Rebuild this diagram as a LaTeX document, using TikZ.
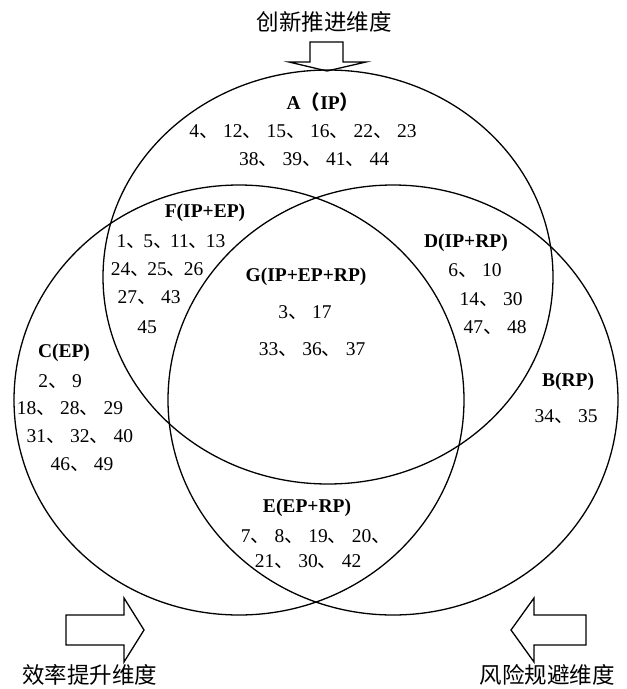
\documentclass[tikz,border=0pt]{standalone}
\usepackage{fontspec}
\setmainfont{Liberation Serif}
\newfontfamily\cjk{Noto Sans CJK SC}
\usetikzlibrary{shapes.geometric}
% enumeration comma with its trailing gap
\newcommand\dun[1][24pt]{\makebox[#1][l]{\cjk 、}}
\tikzset{
  setring/.style={draw, ellipse, line width=1.3pt, inner sep=0pt, minimum width=450pt},
  nums/.style={font=\fontsize{19.5}{22}\selectfont, inner sep=0pt},
  lbl/.style={font=\fontsize{19.5}{22}\selectfont\bfseries, inner sep=0pt},
  dimtext/.style={font=\fontsize{22.5}{25}\selectfont\cjk, inner sep=0pt},
  blockarrow/.style={draw, line width=1.3pt, line join=miter},
}
\begin{document}
\begin{tikzpicture}[x=1pt, y=-1pt]
\useasboundingbox (0,0) rectangle (627,689);

% the three dimension sets
\node[setring, minimum height=414pt] (IP) at (328,277) {};
\node[setring, minimum height=430pt] (EP) at (239,400) {};
\node[setring, minimum height=430pt] (RP) at (393,400) {};

% block arrows for the three dimensions
\draw[blockarrow] (310,42) -- (343,42) -- (343,62) -- (366,62) -- (327,71) -- (289,62) -- (310,62) -- cycle;
\draw[blockarrow] (66,615) -- (124,615) -- (124,598) -- (144,630) -- (124,662) -- (124,645) -- (66,645) -- cycle;
\draw[blockarrow] (586,615) -- (534,615) -- (534,598) -- (511,630) -- (534,662) -- (534,645) -- (586,645) -- cycle;

% dimension titles
\node[dimtext] (tIP) at (324,22) {创新推进维度};
\node[dimtext] (tEP) at (90,675) {效率提升维度};
\node[dimtext] (tRP) at (547,675) {风险规避维度};

% region A
\node[lbl] (A) at (323,102) {A{\cjk （}IP{\cjk ）}};
\node[nums] (A1) at (303,132) {4\dun 12\dun 15\dun 16\dun 22\dun 23};
\node[nums] (A2) at (314,160) {38\dun 39\dun 41\dun 44};

% region F
\node[lbl] (F) at (205,213) {F(IP+EP)};
\node[nums] (F1) at (171,242) {1\dun[17pt]5\dun[17pt]11\dun[17pt]13};
\node[nums] (F2) at (157,270) {24\dun[17pt]25\dun[17pt]26};
\node[nums] (F3) at (149,298) {27\dun 43};
\node[nums] (F4) at (147,327) {45};

% region G
\node[lbl] (G) at (306,277) {G(IP+EP+RP)};
\node[nums] (G1) at (305,313) {3\dun 17};
\node[nums] (G2) at (312,350) {33\dun 36\dun 37};

% region D
\node[lbl] (D) at (466,243) {D(IP+RP)};
\node[nums] (D1) at (475,271) {6\dun 10};
\node[nums] (D2) at (491,300) {14\dun 30};
\node[nums] (D3) at (495,328) {47\dun 48};

% region C
\node[lbl] (C) at (64,353) {C(EP)};
\node[nums] (C1) at (60,382) {2\dun 9};
\node[nums] (C2) at (70,409) {18\dun 28\dun 29};
\node[nums] (C3) at (80,437) {31\dun 32\dun 40};
\node[nums] (C4) at (82,465) {46\dun 49};

% region B
\node[lbl] (B) at (568,382) {B(RP)};
\node[nums] (B1) at (566,417) {34\dun 35};

% region E
\node[lbl] (E) at (307,508) {E(EP+RP)};
\node[nums] (E1) at (313,537) {7\dun 8\dun 19\dun 20\dun[14pt]};
\node[nums] (E2) at (308,562) {21\dun 30\dun 42};
\end{tikzpicture}
\end{document}
